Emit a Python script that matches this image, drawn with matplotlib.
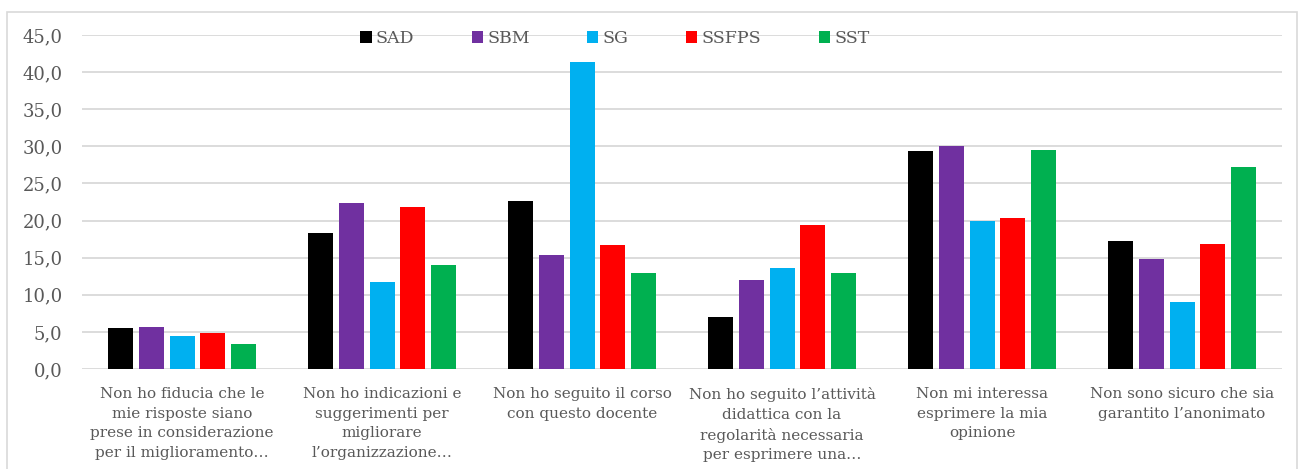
import matplotlib
matplotlib.use("Agg")
import matplotlib.pyplot as plt
from matplotlib.patches import Rectangle
from matplotlib.ticker import FuncFormatter
import numpy as np

categories = [
    "Non ho fiducia che le\nmie risposte siano\nprese in considerazione\nper il miglioramento…",
    "Non ho indicazioni e\nsuggerimenti per\nmigliorare\nl’organizzazione…",
    "Non ho seguito il corso\ncon questo docente",
    "Non ho seguito l’attività\ndidattica con la\nregolarità necessaria\nper esprimere una…",
    "Non mi interessa\nesprimere la mia\nopinione",
    "Non sono sicuro che sia\ngarantito l’anonimato",
]
series_names = ["SAD", "SBM", "SG", "SSFPS", "SST"]
sad = [5.5, 18.3, 22.7, 7.0, 29.4, 17.2]
sbm = [5.6, 22.3, 15.3, 12.0, 30.0, 14.8]
sg = [4.5, 11.7, 41.4, 13.6, 19.9, 9.0]
ssfps = [4.9, 21.8, 16.7, 19.4, 20.3, 16.9]
sst = [3.4, 14.0, 13.0, 12.9, 29.5, 27.2]
colors = ["#000000", "#7030A0", "#00B0F0", "#FF0000", "#00B050"]

plt.rcParams['font.family'] = ['DejaVu Serif']
text_col = "#595959"

fig = plt.figure(figsize=(13.01, 4.69), dpi=100)
ax = fig.add_axes([82/1301, 1-369/469, 1200/1301, 334/469])

# outer chart frame
fig.patches.append(Rectangle((7/1301, -0.02), 1290/1301, 1.02-12/469,
                             transform=fig.transFigure, fill=False,
                             edgecolor="#D9D9D9", lw=1.2, zorder=0))

x = np.arange(len(categories))
step = 0.1535
width = 0.125
for i, (name, vals) in enumerate(zip(series_names, [sad, sbm, sg, ssfps, sst])):
    ax.bar(x + (i - 2) * step, vals, width, color=colors[i], label=name, zorder=3)

ax.set_xlim(-0.5, 5.5)
ax.set_ylim(0, 45)
ax.set_yticks(np.arange(0, 46, 5))
ax.yaxis.set_major_formatter(FuncFormatter(lambda v, p: f"{v:.1f}".replace(".", ",")))
ax.grid(axis="y", color="#D9D9D9", lw=1.3, zorder=0)
ax.set_axisbelow(True)
for s in ax.spines.values():
    s.set_visible(False)
ax.tick_params(axis="both", length=0, colors=text_col)
ax.tick_params(axis="y", labelsize=13, pad=14)
ax.set_xticks(x)
ax.set_xticklabels(categories, fontsize=11, color=text_col, linespacing=1.5, va="top")
ax.tick_params(axis="x", pad=13)

leg = ax.legend(loc="center", bbox_to_anchor=(0.444, 0.99), ncol=5, frameon=False,
                fontsize=12.5, handlelength=0.65, handleheight=0.65, handletextpad=0.25,
                columnspacing=3.3, borderaxespad=0)
for t in leg.get_texts():
    t.set_color(text_col)

fig.savefig("out.png", dpi=100)
